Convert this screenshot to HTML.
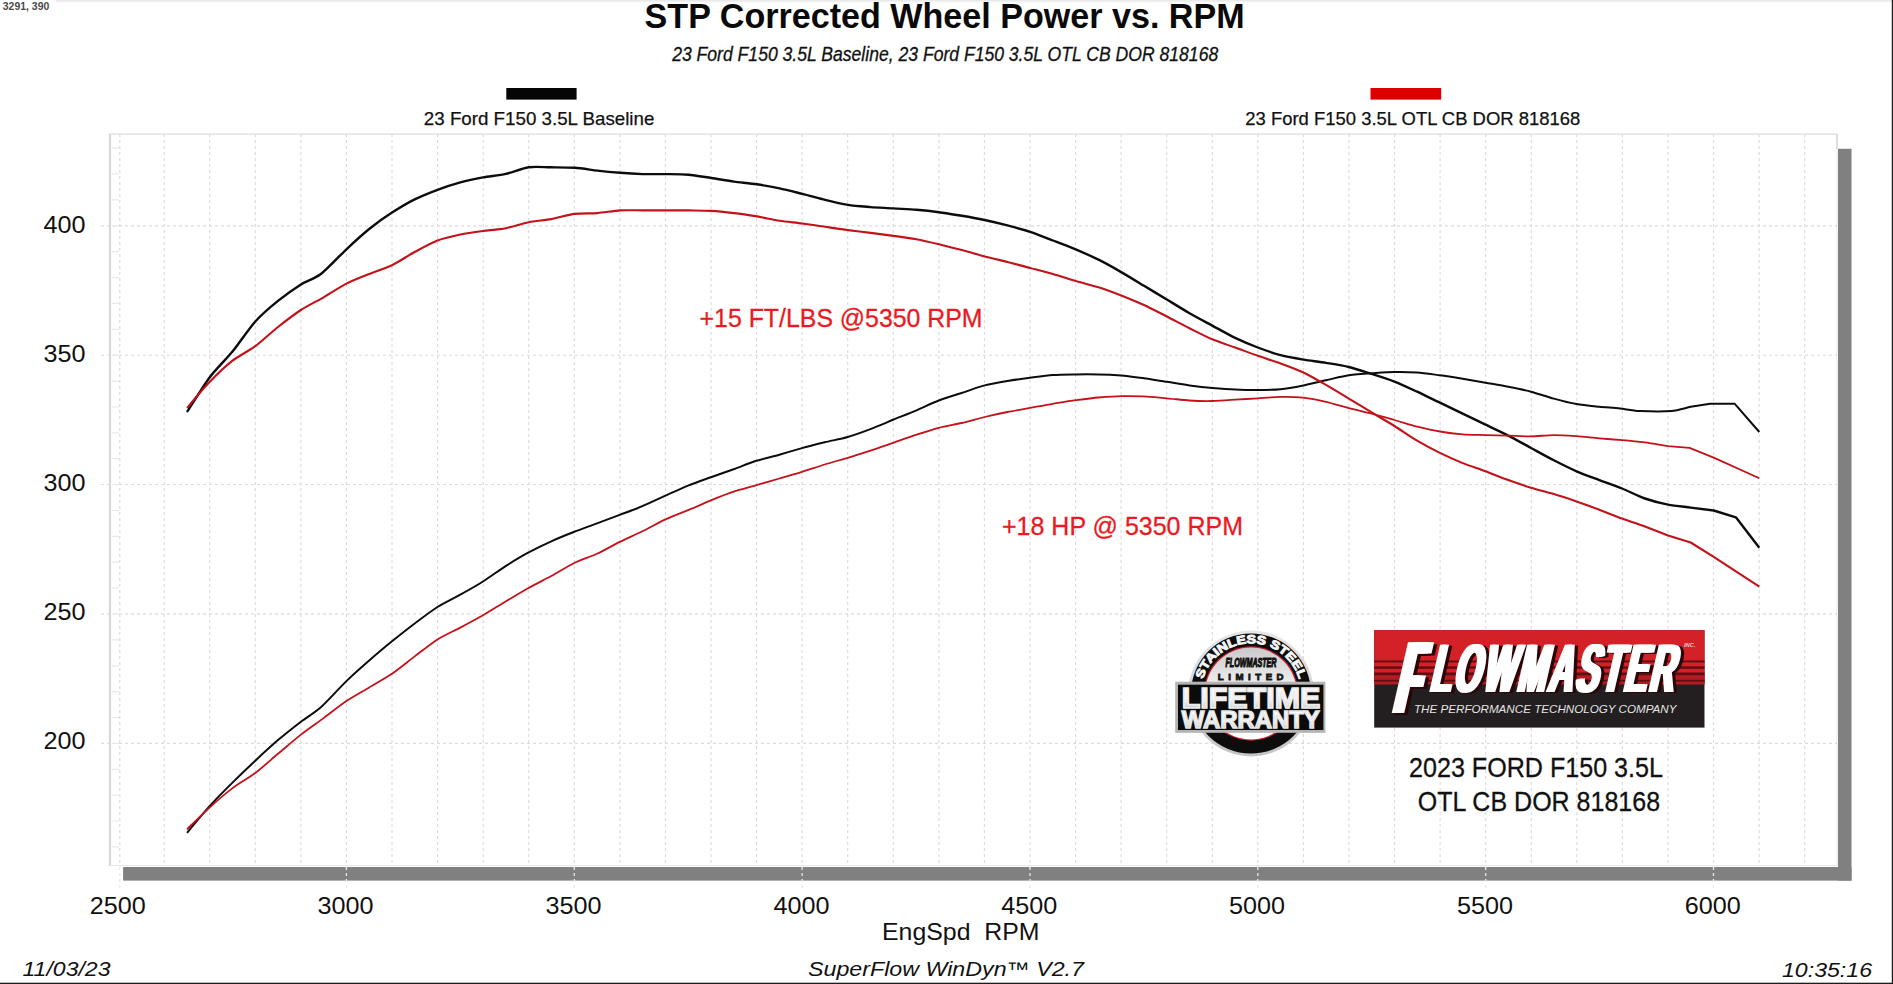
<!DOCTYPE html>
<html lang="en"><head><meta charset="utf-8"><title>STP Corrected Wheel Power vs. RPM</title>
<style>
html,body{margin:0;padding:0;background:#fff;}
body{width:1893px;height:984px;overflow:hidden;position:relative;font-family:"Liberation Sans",sans-serif;}
svg{display:block;position:absolute;left:0;top:0;}
text{font-family:"Liberation Sans",sans-serif;}
.ax{font-size:23px;fill:#111;}
.my{fill:#111;}
</style></head><body>
<svg width="1893" height="984" viewBox="0 0 1893 984">
<rect x="0" y="0" width="1893" height="984" fill="#fff"/>
<defs><linearGradient id="topg" x1="0" y1="0" x2="0" y2="1"><stop offset="0" stop-color="#e6e6e6"/><stop offset="1" stop-color="#ffffff"/></linearGradient></defs>
<rect x="56" y="0" width="1837" height="3.2" fill="url(#topg)"/>
<g id="shadow" fill="#808080"><rect x="123.1" y="867" width="1728.4" height="13.6"/><rect x="1838" y="148.8" width="13.5" height="731.8"/></g>
<rect x="110" y="134.1" width="1727" height="731.4" fill="#fff"/>
<path d="M110 866.0V133.6" fill="none" stroke="#d8d8d8" stroke-width="2.3"/>
<path d="M110 134.1H1837" fill="none" stroke="#dcdcdc" stroke-width="1.3"/>
<path d="M110 865.5H1837V134.1" fill="none" stroke="#e6e6e6" stroke-width="1"/>
<path d="M1837 134.1V149" fill="none" stroke="#d2d2d2" stroke-width="1.3"/>
<path d="M119.8 134.1V865.5M164.2 134.1V865.5M209.7 134.1V865.5M255.3 134.1V865.5M300.9 134.1V865.5M346.4 134.1V865.5M392.0 134.1V865.5M437.6 134.1V865.5M483.2 134.1V865.5M528.7 134.1V865.5M574.3 134.1V865.5M619.9 134.1V865.5M665.4 134.1V865.5M711.0 134.1V865.5M756.6 134.1V865.5M802.1 134.1V865.5M847.7 134.1V865.5M893.3 134.1V865.5M938.9 134.1V865.5M984.4 134.1V865.5M1030.0 134.1V865.5M1075.6 134.1V865.5M1121.1 134.1V865.5M1166.7 134.1V865.5M1212.3 134.1V865.5M1257.8 134.1V865.5M1303.4 134.1V865.5M1349.0 134.1V865.5M1394.6 134.1V865.5M1440.1 134.1V865.5M1485.7 134.1V865.5M1531.3 134.1V865.5M1576.8 134.1V865.5M1622.4 134.1V865.5M1668.0 134.1V865.5M1713.5 134.1V865.5M1759.1 134.1V865.5M1804.7 134.1V865.5" fill="none" stroke="#dcdcdc" stroke-width="1.15" stroke-dasharray="3 3"/>
<path d="M119.8 867V889M346.4 867V889M574.3 867V889M802.1 867V889M1030.0 867V889M1257.8 867V889M1485.7 867V889M1713.5 867V889" fill="none" stroke="#e8e8e8" stroke-width="1.3" stroke-dasharray="3 3"/>
<path d="M101 225.8H1837M101 355.2H1837M101 484.5H1837M101 613.9H1837M101 743.3H1837" fill="none" stroke="#dcdcdc" stroke-width="1.15" stroke-dasharray="3 3"/>
<path d="M112 148.2H119M112 174.0H119M112 199.9H119M112 225.8H119M112 251.7H119M112 277.6H119M112 303.4H119M112 329.3H119M112 355.2H119M112 381.1H119M112 407.0H119M112 432.8H119M112 458.7H119M112 484.6H119M112 510.5H119M112 536.4H119M112 562.2H119M112 588.1H119M112 614.0H119M112 639.9H119M112 665.8H119M112 691.6H119M112 717.5H119M112 743.4H119M112 769.3H119M112 795.2H119M112 821.0H119M112 846.9H119" fill="none" stroke="#e9e9e9" stroke-width="1.2"/>
<path d="M187.0 412.0C190.0 407.4 203.7 385.3 209.8 377.2C215.9 369.1 226.4 359.0 232.5 351.6C238.6 344.2 249.2 328.3 255.3 321.5C261.4 314.7 271.9 305.8 278.0 300.9C284.1 296.0 295.2 288.0 300.9 284.4C306.6 280.8 314.8 278.7 320.9 274.0C327.0 269.3 340.0 255.3 346.4 249.3C352.8 243.3 363.1 233.9 369.2 229.0C375.3 224.1 385.9 216.5 392.0 212.6C398.1 208.7 408.6 202.4 414.7 199.4C420.8 196.4 431.4 192.1 437.5 189.8C443.6 187.5 454.2 184.1 460.3 182.4C466.4 180.7 476.9 178.5 483.0 177.4C489.1 176.3 499.7 175.2 505.8 173.9C511.9 172.6 522.7 168.2 528.6 167.3C534.5 166.4 543.9 167.2 550.0 167.3C556.1 167.4 568.4 167.4 574.7 167.8C581.0 168.2 591.4 169.9 597.5 170.6C603.6 171.3 614.1 172.3 620.2 172.8C626.3 173.3 636.9 173.9 643.0 174.1C649.1 174.3 659.7 174.0 665.8 174.1C671.9 174.2 682.4 174.2 688.5 174.7C694.6 175.2 705.2 177.1 711.3 178.0C717.4 178.9 727.9 180.8 734.0 181.6C740.1 182.4 750.8 183.4 756.9 184.3C763.0 185.2 773.5 187.1 779.6 188.4C785.7 189.7 796.3 192.4 802.4 193.9C808.5 195.4 819.1 198.4 825.2 199.9C831.3 201.4 841.9 203.9 848.0 204.9C854.1 205.9 864.6 206.6 870.7 207.1C876.8 207.6 887.4 208.0 893.5 208.4C899.6 208.8 910.2 209.3 916.3 209.8C922.4 210.3 932.9 211.4 939.0 212.2C945.1 213.0 955.7 214.8 961.8 215.8C967.9 216.8 978.5 218.7 984.6 220.0C990.7 221.3 1001.3 223.8 1007.4 225.4C1013.5 227.0 1024.0 229.8 1030.1 231.8C1036.2 233.8 1046.8 238.2 1052.9 240.5C1059.0 242.8 1069.6 246.7 1075.7 249.3C1081.8 251.9 1092.4 256.7 1098.5 259.7C1104.6 262.7 1115.1 268.6 1121.2 272.1C1127.3 275.6 1137.9 282.1 1144.0 285.8C1150.1 289.5 1160.7 295.8 1166.8 299.5C1172.9 303.2 1183.4 309.7 1189.5 313.2C1195.6 316.7 1206.2 322.3 1212.3 325.6C1218.4 328.9 1229.0 335.0 1235.1 337.9C1241.2 340.8 1251.7 345.2 1257.8 347.5C1263.9 349.8 1274.5 353.6 1280.6 355.2C1286.7 356.8 1297.3 358.6 1303.4 359.6C1309.5 360.6 1319.9 361.9 1326.0 362.9C1332.1 363.9 1342.7 365.5 1348.8 367.0C1354.9 368.5 1365.5 372.0 1371.6 373.9C1377.7 375.8 1388.3 379.2 1394.4 381.6C1400.5 384.0 1411.0 388.9 1417.1 391.7C1423.2 394.5 1433.8 399.8 1439.9 402.7C1446.0 405.6 1456.6 410.8 1462.7 413.7C1468.8 416.6 1479.4 421.8 1485.5 424.7C1491.6 427.6 1502.1 432.5 1508.2 435.6C1514.3 438.7 1524.9 444.7 1531.0 448.0C1537.1 451.3 1547.7 457.2 1553.8 460.3C1559.9 463.4 1570.4 468.7 1576.5 471.3C1582.6 473.9 1593.2 477.8 1599.3 480.1C1605.4 482.4 1616.0 486.0 1622.1 488.5C1628.2 491.0 1638.8 496.4 1644.9 498.5C1651.0 500.6 1661.9 503.4 1668.0 504.6C1674.1 505.8 1684.6 506.8 1690.7 507.6L1713.7 510.5L1735.9 517.3L1759.3 547.8" fill="none" stroke="#0c0c0c" stroke-width="2.4" stroke-linejoin="round" stroke-linecap="butt"/>
<path d="M187.0 832.8C190.0 829.2 203.7 812.6 209.8 805.9C215.9 799.2 226.4 788.6 232.5 782.6C238.6 776.6 249.2 766.4 255.3 760.7C261.4 755.0 271.9 745.3 278.0 740.1C284.1 734.9 295.2 726.1 300.9 721.7C306.6 717.3 314.8 712.6 320.9 707.2C327.0 701.8 340.0 687.3 346.4 681.1C352.8 674.9 363.1 665.8 369.2 660.5C375.3 655.2 385.9 646.2 392.0 641.3C398.1 636.4 408.6 628.1 414.7 623.5C420.8 618.9 431.4 610.8 437.5 607.0C443.6 603.2 454.2 598.1 460.3 594.7C466.4 591.3 476.9 585.4 483.0 581.5C489.1 577.6 500.3 569.5 506.4 565.6C512.5 561.7 522.6 555.6 528.6 552.4C534.6 549.2 545.2 544.0 551.3 541.3C557.4 538.6 568.2 534.2 574.3 531.8C580.4 529.4 590.9 525.7 597.0 523.4C603.1 521.1 613.6 517.2 619.7 514.9C625.8 512.6 636.3 508.8 642.4 506.2C648.5 503.6 659.3 498.4 665.4 495.7C671.5 493.0 682.0 488.1 688.1 485.6C694.2 483.1 704.8 479.4 710.9 477.2C717.0 475.0 727.5 471.4 733.6 469.2C739.7 467.0 750.4 462.7 756.5 460.8C762.6 458.9 773.2 456.4 779.3 454.7C785.4 453.0 795.9 449.8 802.0 448.1C808.1 446.4 818.6 443.8 824.7 442.3C830.8 440.8 841.6 438.8 847.7 437.0C853.8 435.2 864.3 431.4 870.4 429.1C876.5 426.8 887.0 422.3 893.1 419.8C899.2 417.3 909.7 413.2 915.8 410.6C921.9 408.0 932.7 402.8 938.8 400.5C944.9 398.2 955.5 395.0 961.6 393.0C967.7 391.0 978.5 387.0 984.6 385.4C990.7 383.8 1001.3 382.0 1007.4 381.0C1013.5 380.0 1024.0 378.5 1030.1 377.7C1036.2 376.9 1046.8 375.4 1052.9 375.0C1059.0 374.6 1069.6 374.5 1075.7 374.4C1081.8 374.3 1092.4 374.3 1098.5 374.4C1104.6 374.5 1115.1 375.0 1121.2 375.5C1127.3 376.0 1137.9 377.5 1144.0 378.3C1150.1 379.1 1160.7 380.9 1166.8 381.8C1172.9 382.7 1183.4 384.6 1189.5 385.4C1195.6 386.2 1206.2 387.4 1212.3 387.9C1218.4 388.4 1229.0 389.2 1235.1 389.5C1241.2 389.8 1251.7 390.0 1257.8 390.0C1263.9 390.0 1274.5 389.8 1280.6 389.2C1286.7 388.6 1297.3 386.6 1303.4 385.4C1309.5 384.2 1319.9 381.5 1326.0 380.2C1332.1 378.9 1342.7 376.2 1348.8 375.3C1354.9 374.4 1365.5 373.7 1371.6 373.3C1377.7 372.9 1388.3 372.1 1394.4 372.0C1400.5 371.9 1411.0 372.1 1417.1 372.5C1423.2 372.9 1433.8 374.5 1439.9 375.3C1446.0 376.1 1456.6 377.8 1462.7 378.8C1468.8 379.8 1479.4 381.6 1485.5 382.7C1491.6 383.8 1502.1 385.6 1508.2 386.8C1514.3 388.0 1524.9 390.1 1531.0 391.7C1537.1 393.3 1547.7 396.9 1553.8 398.6C1559.9 400.3 1570.4 403.0 1576.5 404.1C1582.6 405.2 1593.5 406.2 1599.3 406.8C1605.1 407.4 1614.6 407.9 1620.0 408.5C1625.4 409.1 1632.7 410.7 1639.5 411.0C1646.3 411.3 1664.4 411.6 1671.2 411.0C1678.0 410.4 1685.5 407.9 1690.7 406.8L1710.2 403.7L1734.6 403.7L1759.3 432.0" fill="none" stroke="#0c0c0c" stroke-width="2.0" stroke-linejoin="round" stroke-linecap="butt"/>
<path d="M187.0 407.9C190.0 404.4 203.7 388.1 209.8 381.8C215.9 375.5 226.4 365.4 232.5 360.7C238.6 356.0 249.2 350.7 255.3 346.2C261.4 341.7 271.9 331.8 278.0 327.0C284.1 322.2 294.8 314.0 300.9 310.0C307.0 306.0 317.5 300.8 323.6 297.3C329.7 293.8 340.3 286.7 346.4 283.6C352.5 280.5 363.1 276.5 369.2 274.0C375.3 271.5 385.9 268.1 392.0 265.2C398.1 262.3 408.6 255.3 414.7 252.0C420.8 248.7 431.4 242.8 437.5 240.5C443.6 238.2 454.2 235.8 460.3 234.5C466.4 233.2 476.9 231.8 483.0 231.0C489.1 230.2 499.7 229.4 505.8 228.2C511.9 227.0 522.5 223.4 528.6 222.2C534.7 221.0 545.2 220.2 551.3 219.1C557.4 218.0 568.5 214.7 574.7 213.9C580.9 213.1 591.4 213.6 597.5 213.1C603.6 212.6 614.1 210.8 620.2 210.4C626.3 210.0 636.9 210.4 643.0 210.4C649.1 210.4 659.7 210.4 665.8 210.4C671.9 210.4 682.4 210.3 688.5 210.4C694.6 210.5 705.2 210.5 711.3 210.9C717.4 211.3 727.9 212.4 734.0 213.1C740.1 213.8 750.8 215.4 756.9 216.4C763.0 217.4 773.5 219.9 779.6 220.8C785.7 221.7 796.3 222.7 802.4 223.5C808.5 224.3 819.1 225.9 825.2 226.8C831.3 227.7 841.9 229.3 848.0 230.1C854.1 230.9 864.6 232.1 870.7 232.9C876.8 233.7 887.4 235.1 893.5 235.9C899.6 236.7 910.2 238.1 916.3 239.2C922.4 240.3 932.9 242.8 939.0 244.3C945.1 245.8 955.7 248.5 961.8 250.1C967.9 251.7 978.5 254.8 984.6 256.4C990.7 258.0 1001.3 260.4 1007.4 261.9C1013.5 263.4 1024.0 266.4 1030.1 268.0C1036.2 269.6 1046.8 272.3 1052.9 274.0C1059.0 275.7 1069.6 279.1 1075.7 280.9C1081.8 282.7 1092.4 285.3 1098.5 287.2C1104.6 289.1 1115.1 293.0 1121.2 295.4C1127.3 297.8 1137.9 302.2 1144.0 305.0C1150.1 307.8 1160.7 313.4 1166.8 316.5C1172.9 319.6 1183.4 325.3 1189.5 328.3C1195.6 331.3 1206.2 336.7 1212.3 339.3C1218.4 341.9 1229.0 345.3 1235.1 347.5C1241.2 349.7 1251.7 353.7 1257.8 355.8C1263.9 357.9 1274.5 361.2 1280.6 363.4C1286.7 365.6 1297.3 369.6 1303.4 372.5C1309.5 375.4 1319.9 381.4 1326.0 384.9C1332.1 388.4 1342.7 394.9 1348.8 398.6C1354.9 402.3 1365.5 408.6 1371.6 412.3C1377.7 416.0 1388.3 422.2 1394.4 426.0C1400.5 429.8 1411.0 437.0 1417.1 440.6C1423.2 444.2 1433.8 449.9 1439.9 452.9C1446.0 455.9 1456.6 460.6 1462.7 463.1C1468.8 465.6 1479.4 469.0 1485.5 471.3C1491.6 473.6 1502.1 477.9 1508.2 480.1C1514.3 482.3 1524.9 485.9 1531.0 487.8C1537.1 489.7 1547.7 492.3 1553.8 494.1C1559.9 495.9 1570.4 499.4 1576.5 501.5C1582.6 503.6 1593.2 507.4 1599.3 509.7C1605.4 512.0 1616.0 516.3 1622.1 518.6C1628.2 520.9 1638.8 524.3 1644.9 526.6C1651.0 528.9 1661.8 533.1 1668.0 535.5L1690.7 542.5L1713.7 556.8L1759.3 586.6" fill="none" stroke="#c4121a" stroke-width="2.1" stroke-linejoin="round" stroke-linecap="butt"/>
<path d="M187.0 829.3C190.0 826.4 203.7 812.8 209.8 807.3C215.9 801.8 226.4 792.7 232.5 788.1C238.6 783.5 249.2 777.6 255.3 773.0C261.4 768.4 271.9 758.9 278.0 753.8C284.1 748.7 294.8 739.4 300.9 734.6C307.0 729.8 317.5 722.6 323.6 718.1C329.7 713.6 340.3 705.2 346.4 701.1C352.5 697.0 363.1 691.1 369.2 687.4C375.3 683.7 385.9 677.8 392.0 673.7C398.1 669.6 408.6 661.0 414.7 656.4C420.8 651.8 431.4 643.2 437.5 639.4C443.6 635.6 454.2 630.8 460.3 627.6C466.4 624.4 476.9 618.8 483.0 615.3C489.1 611.8 500.3 604.6 506.4 601.0C512.5 597.4 522.6 591.3 528.6 588.0C534.6 584.7 545.2 579.3 551.3 576.0C557.4 572.7 568.2 566.0 574.3 563.0C580.4 560.0 590.9 556.6 597.0 553.8C603.1 551.0 613.6 544.9 619.7 541.9C625.8 538.9 636.3 534.3 642.4 531.3C648.5 528.3 659.3 522.2 665.4 519.4C671.5 516.6 682.0 512.7 688.1 510.2C694.2 507.7 704.8 502.9 710.9 500.4C717.0 497.9 727.5 493.7 733.6 491.7C739.7 489.7 750.4 486.9 756.5 485.1C762.6 483.3 773.2 480.3 779.3 478.5C785.4 476.7 795.9 473.8 802.0 471.9C808.1 470.0 818.6 466.4 824.7 464.5C830.8 462.6 841.6 459.7 847.7 457.9C853.8 456.1 864.3 452.7 870.4 450.7C876.5 448.7 887.0 444.9 893.1 442.8C899.2 440.7 909.7 436.9 915.8 434.9C921.9 432.9 932.7 429.4 938.8 427.8C944.9 426.2 955.4 424.4 961.5 423.0C967.6 421.6 978.5 418.5 984.6 417.0C990.7 415.5 1001.3 413.2 1007.4 412.0C1013.5 410.8 1024.0 409.0 1030.1 407.9C1036.2 406.8 1046.8 404.8 1052.9 403.8C1059.0 402.8 1069.6 401.0 1075.7 400.2C1081.8 399.4 1092.4 398.0 1098.5 397.5C1104.6 397.0 1115.1 396.2 1121.2 396.1C1127.3 396.0 1137.9 396.1 1144.0 396.4C1150.1 396.7 1160.7 397.8 1166.8 398.3C1172.9 398.8 1183.4 400.1 1189.5 400.5C1195.6 400.9 1206.2 401.1 1212.3 401.0C1218.4 400.9 1229.0 400.1 1235.1 399.7C1241.2 399.3 1251.7 398.7 1257.8 398.3C1263.9 397.9 1274.5 397.0 1280.6 396.9C1286.7 396.8 1297.3 397.0 1303.4 397.7C1309.5 398.4 1319.9 400.5 1326.0 401.9C1332.1 403.3 1342.7 406.6 1348.8 408.2C1354.9 409.8 1365.5 412.1 1371.6 413.7C1377.7 415.3 1388.3 418.3 1394.4 420.0C1400.5 421.7 1411.0 425.1 1417.1 426.6C1423.2 428.1 1433.8 430.5 1439.9 431.5C1446.0 432.5 1456.6 433.8 1462.7 434.3C1468.8 434.8 1479.4 434.9 1485.5 435.1C1491.6 435.3 1502.1 435.4 1508.2 435.6C1514.3 435.8 1524.9 436.5 1531.0 436.4C1537.1 436.3 1547.7 435.1 1553.8 435.1C1559.9 435.1 1570.4 435.8 1576.5 436.2C1582.6 436.6 1593.2 437.9 1599.3 438.4C1605.4 438.9 1616.0 439.6 1622.1 440.1C1628.2 440.6 1638.8 441.6 1644.9 442.4C1651.0 443.2 1661.8 445.2 1668.0 446.2L1689.5 447.9L1713.7 457.6L1759.3 478.3" fill="none" stroke="#c4121a" stroke-width="1.8" stroke-linejoin="round" stroke-linecap="butt"/>
<text class="ax" x="85.6" y="232.7" text-anchor="end" textLength="42" lengthAdjust="spacingAndGlyphs">400</text>
<text class="ax" x="85.6" y="361.8" text-anchor="end" textLength="42" lengthAdjust="spacingAndGlyphs">350</text>
<text class="ax" x="85.6" y="490.9" text-anchor="end" textLength="42" lengthAdjust="spacingAndGlyphs">300</text>
<text class="ax" x="85.6" y="619.9" text-anchor="end" textLength="42" lengthAdjust="spacingAndGlyphs">250</text>
<text class="ax" x="85.6" y="749.0" text-anchor="end" textLength="42" lengthAdjust="spacingAndGlyphs">200</text>
<text class="ax" x="117.8" y="913.6" text-anchor="middle" textLength="56" lengthAdjust="spacingAndGlyphs">2500</text>
<text class="ax" x="345.6" y="913.6" text-anchor="middle" textLength="56" lengthAdjust="spacingAndGlyphs">3000</text>
<text class="ax" x="573.5" y="913.6" text-anchor="middle" textLength="56" lengthAdjust="spacingAndGlyphs">3500</text>
<text class="ax" x="801.4" y="913.6" text-anchor="middle" textLength="56" lengthAdjust="spacingAndGlyphs">4000</text>
<text class="ax" x="1029.2" y="913.6" text-anchor="middle" textLength="56" lengthAdjust="spacingAndGlyphs">4500</text>
<text class="ax" x="1257.0" y="913.6" text-anchor="middle" textLength="56" lengthAdjust="spacingAndGlyphs">5000</text>
<text class="ax" x="1484.9" y="913.6" text-anchor="middle" textLength="56" lengthAdjust="spacingAndGlyphs">5500</text>
<text class="ax" x="1712.8" y="913.6" text-anchor="middle" textLength="56" lengthAdjust="spacingAndGlyphs">6000</text>
<text x="960.8" y="939.8" text-anchor="middle" font-size="24.3" fill="#111" textLength="157.5" lengthAdjust="spacingAndGlyphs" xml:space="preserve" style="white-space:pre">EngSpd  RPM</text>
<text x="944.6" y="27.6" text-anchor="middle" font-size="34.6" font-weight="bold" fill="#0a0a0a" textLength="600" lengthAdjust="spacingAndGlyphs">STP Corrected Wheel Power vs. RPM</text>
<text x="945.2" y="60.8" text-anchor="middle" font-size="19.5" font-style="italic" fill="#111" stroke="#111" stroke-width="0.3" textLength="546" lengthAdjust="spacingAndGlyphs">23 Ford F150 3.5L Baseline, 23 Ford F150 3.5L OTL CB DOR 818168</text>
<rect x="506.3" y="88" width="70.3" height="11.6" fill="#050505"/>
<text x="539.1" y="124.6" text-anchor="middle" font-size="19" fill="#111" stroke="#111" stroke-width="0.25" textLength="230.5" lengthAdjust="spacingAndGlyphs">23 Ford F150 3.5L Baseline</text>
<rect x="1370.5" y="88" width="70.7" height="11.6" fill="#dc0000"/>
<text x="1412.8" y="125.4" text-anchor="middle" font-size="19" fill="#111" stroke="#111" stroke-width="0.25" textLength="335" lengthAdjust="spacingAndGlyphs">23 Ford F150 3.5L OTL CB DOR 818168</text>
<text x="699.6" y="326.9" font-size="26.2" fill="#ea1a22" stroke="#ea1a22" stroke-width="0.3" textLength="283" lengthAdjust="spacingAndGlyphs">+15 FT/LBS @5350 RPM</text>
<text x="1002" y="535.1" font-size="26.2" fill="#ea1a22" stroke="#ea1a22" stroke-width="0.3" textLength="241" lengthAdjust="spacingAndGlyphs">+18 HP @ 5350 RPM</text>
<text x="1536" y="776.5" text-anchor="middle" font-size="27.6" fill="#111" stroke="#111" stroke-width="0.3" textLength="254" lengthAdjust="spacingAndGlyphs">2023 FORD F150 3.5L</text>
<text x="1538.9" y="811.1" text-anchor="middle" font-size="27.6" fill="#111" stroke="#111" stroke-width="0.3" textLength="242.4" lengthAdjust="spacingAndGlyphs">OTL CB DOR 818168</text>
<text x="22.5" y="976.4" font-size="19.5" font-style="italic" fill="#111" textLength="88" lengthAdjust="spacingAndGlyphs">11/03/23</text>
<text x="946" y="976.2" text-anchor="middle" font-size="19.5" font-style="italic" fill="#111" textLength="276" lengthAdjust="spacingAndGlyphs">SuperFlow WinDyn™ V2.7</text>
<text x="1872" y="976.6" text-anchor="end" font-size="19.5" font-style="italic" fill="#111" textLength="90" lengthAdjust="spacingAndGlyphs">10:35:16</text>
<text x="2.8" y="10" font-size="10" font-weight="bold" fill="#4a4a4a" textLength="46.5" lengthAdjust="spacingAndGlyphs">3291, 390</text>
<rect x="0" y="982.7" width="1893" height="1.3" fill="#1c1c1c"/><rect x="1891.8" y="0" width="1.2" height="984" fill="#1c1c1c"/>
<defs>
<linearGradient id="metal" x1="0" y1="0" x2="0" y2="1"><stop offset="0" stop-color="#ffffff"/><stop offset="0.55" stop-color="#f2f2f2"/><stop offset="1" stop-color="#b9b9b9"/></linearGradient>
<linearGradient id="disc" x1="0" y1="0" x2="0" y2="1"><stop offset="0" stop-color="#c9c9c9"/><stop offset="0.45" stop-color="#f4f4f4"/><stop offset="1" stop-color="#ffffff"/></linearGradient>
<linearGradient id="ring" x1="0" y1="0" x2="0" y2="1"><stop offset="0" stop-color="#e6e6e6"/><stop offset="1" stop-color="#c4c4c4"/></linearGradient>
<path id="arc" d="M1202.9,679.7 A50.0,50.0 0 0 1 1299.1,679.7"/>
</defs>
<g id="fm">
<rect x="1374.2" y="630.2" width="330.3" height="97.4" fill="#231f20"/>
<rect x="1374.2" y="630.2" width="330.3" height="54" fill="#d42027"/>
<rect x="1374.2" y="675.3" width="330.3" height="9" fill="#b31b21"/>
<rect x="1374.2" y="660.5" width="330.3" height="1.9" fill="#5c0e12"/>
<rect x="1374.2" y="666.4" width="330.3" height="2.4" fill="#5c0e12"/>
<rect x="1374.2" y="672.5" width="330.3" height="2.8" fill="#5c0e12"/>
<rect x="1374.2" y="679.8" width="330.3" height="1.8" fill="#5c0e12"/>
<g font-weight="bold" fill="#2a0608">
<text transform="translate(1392.5,714.5) skewX(-12.9)"><tspan x="0.0" font-size="103" textLength="22.97" lengthAdjust="spacingAndGlyphs">F</tspan><tspan x="32.7" dy="-21.8" font-size="68.6" letter-spacing="5" textLength="245.8" lengthAdjust="spacingAndGlyphs">LOWMASTER</tspan></text>
<text transform="translate(1394.5,714.5) skewX(-12.9)"><tspan x="1.5" font-size="103" textLength="22.97" lengthAdjust="spacingAndGlyphs">F</tspan><tspan x="32.7" dy="-21.8" font-size="68.6" letter-spacing="5" textLength="245.8" lengthAdjust="spacingAndGlyphs">LOWMASTER</tspan></text>
<text transform="translate(1396.5,714.5) skewX(-12.9)"><tspan x="3.0" font-size="103" textLength="22.97" lengthAdjust="spacingAndGlyphs">F</tspan><tspan x="32.7" dy="-21.8" font-size="68.6" letter-spacing="5" textLength="245.8" lengthAdjust="spacingAndGlyphs">LOWMASTER</tspan></text>
</g>
<g font-weight="bold" fill="#ffffff">
<text transform="translate(1389.3,713.3) skewX(-12.9)"><tspan x="0.0" font-size="103" textLength="22.97" lengthAdjust="spacingAndGlyphs">F</tspan><tspan x="32.7" dy="-21.8" font-size="68.6" letter-spacing="5" textLength="245.8" lengthAdjust="spacingAndGlyphs">LOWMASTER</tspan></text>
<text transform="translate(1391.3,713.3) skewX(-12.9)"><tspan x="1.5" font-size="103" textLength="22.97" lengthAdjust="spacingAndGlyphs">F</tspan><tspan x="32.7" dy="-21.8" font-size="68.6" letter-spacing="5" textLength="245.8" lengthAdjust="spacingAndGlyphs">LOWMASTER</tspan></text>
<text transform="translate(1393.3,713.3) skewX(-12.9)"><tspan x="3.0" font-size="103" textLength="22.97" lengthAdjust="spacingAndGlyphs">F</tspan><tspan x="32.7" dy="-21.8" font-size="68.6" letter-spacing="5" textLength="245.8" lengthAdjust="spacingAndGlyphs">LOWMASTER</tspan></text>
</g>
<text x="1414" y="713.2" font-size="11.6" font-style="italic" fill="#e4e4e4" textLength="262.5" lengthAdjust="spacingAndGlyphs">THE PERFORMANCE TECHNOLOGY COMPANY</text>
<text x="1684" y="647" font-size="4.6" font-style="italic" font-weight="bold" fill="#f3c9c9" textLength="11.5" lengthAdjust="spacingAndGlyphs">INC.</text>
<text x="1404.3" y="692.5" font-size="4" fill="#eee">®</text>
</g>
<g id="badge">
<circle cx="1251" cy="693.5" r="62.9" fill="url(#ring)"/>
<circle cx="1251" cy="693.5" r="60" fill="#0d0d0d"/>
<circle cx="1251" cy="693.5" r="47.2" fill="#c21f33"/>
<circle cx="1251" cy="693.5" r="45.9" fill="url(#disc)"/>
<text font-size="11.9" font-weight="bold" fill="#f6f6f6" stroke="#f6f6f6" stroke-width="0.9"><textPath href="#arc" startOffset="50%" text-anchor="middle" textLength="128.5" lengthAdjust="spacingAndGlyphs">STAINLESS STEEL</textPath></text>
<text x="1225.5" y="667.2" font-size="13.2" font-weight="bold" font-style="italic" fill="#111" stroke="#111" stroke-width="1.1" textLength="51" lengthAdjust="spacingAndGlyphs">FLOWMASTER</text>
<text x="1217.8" y="680.2" font-size="9.7" font-weight="bold" fill="#161616" stroke="#161616" stroke-width="0.8" textLength="65.8" lengthAdjust="spacing">LIMITED</text>
<rect x="1175.2" y="681.7" width="150.2" height="51.1" fill="#b4b4b4"/>
<rect x="1178" y="684.7" width="145.4" height="45.3" fill="#0b0b0b"/>
<text x="1251" y="708.3" text-anchor="middle" font-size="29.8" font-weight="bold" fill="url(#metal)" stroke="#ececec" stroke-width="1.7" textLength="138.5" lengthAdjust="spacingAndGlyphs">LIFETIME</text>
<text x="1250.8" y="728" text-anchor="middle" font-size="23.3" font-weight="bold" fill="url(#metal)" stroke="#e6e6e6" stroke-width="1.5" textLength="138" lengthAdjust="spacingAndGlyphs">WARRANTY</text>
</g>
</svg></body></html>
